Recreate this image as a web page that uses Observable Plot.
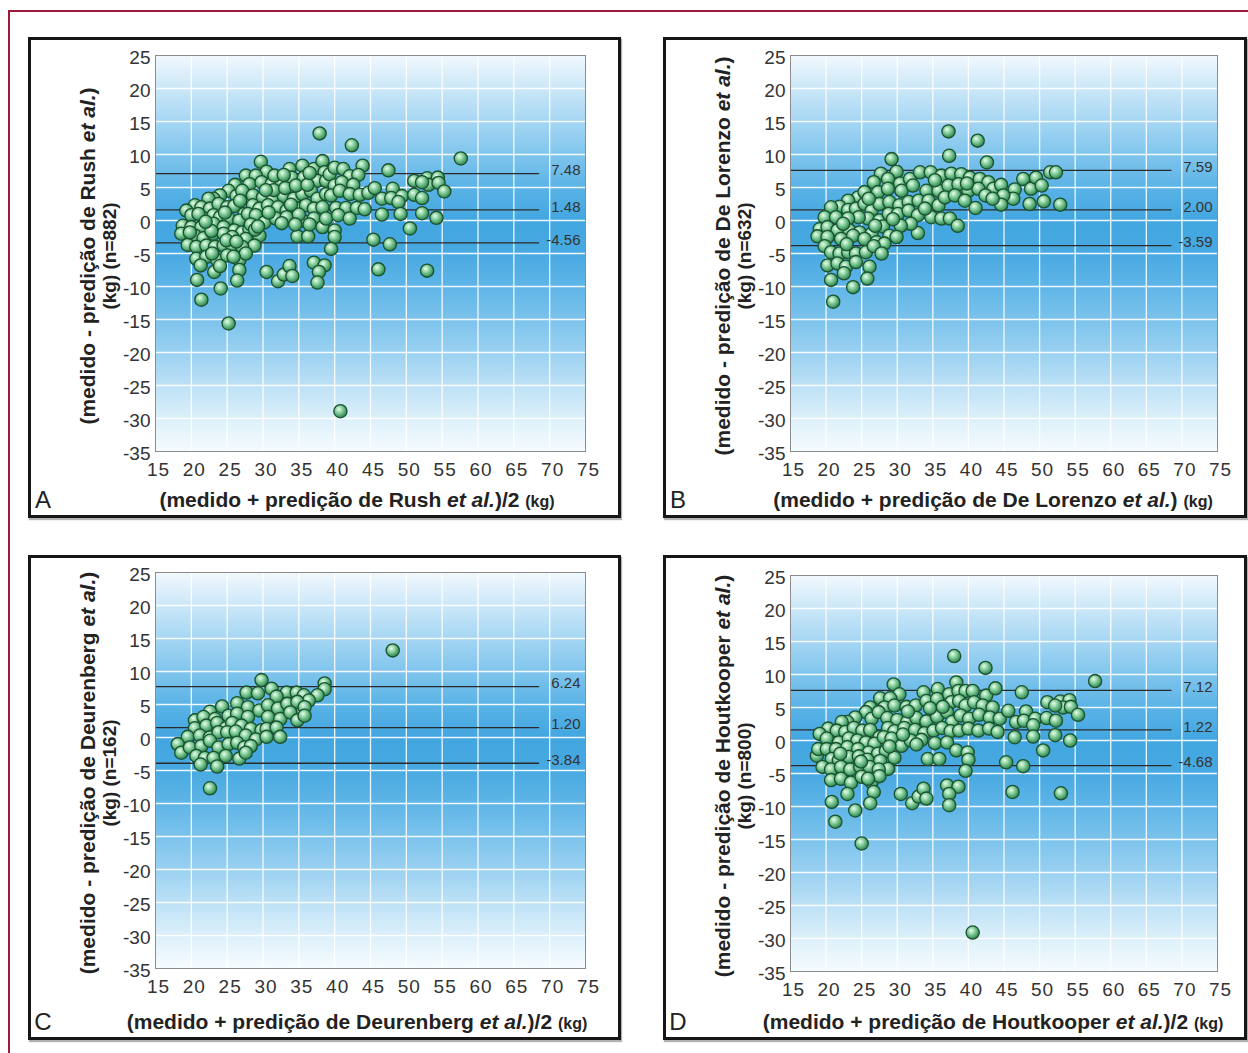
<!DOCTYPE html>
<html><head><meta charset="utf-8">
<script src="https://cdn.jsdelivr.net/npm/d3@7"></script>
<script src="https://cdn.jsdelivr.net/npm/@observablehq/plot@0.6"></script>
<style>
body{margin:0;background:#fff;}
#page{position:relative;width:1248px;height:1053px;overflow:hidden;font-family:"Liberation Sans",Arial,sans-serif;background:#fff;}
.frame{position:absolute;border:3px solid #161616;box-sizing:border-box;box-shadow:1px 2px 1px rgba(0,0,0,.3);}
.panel{position:absolute;}
#red{position:absolute;left:8px;top:10px;width:1300px;height:1100px;border-top:2px solid #9e1a3c;border-left:2px solid #9e1a3c;}
</style></head><body><div id="page"><div id="red"></div></div>
<script>
// ---- axis ticks ----
const xTicks = [15,20,25,30,35,40,45,50,55,60,65,70,75];
const yTicks = [-35,-30,-25,-20,-15,-10,-5,0,5,10,15,20,25];

// ---- panel texts ----
const panelLetters = ["A","B","C","D"];
const methodNames = ["Rush","De Lorenzo","Deurenberg","Houtkooper"];
const sampleSizes = ["882","632","162","800"];
const halfSuffix = ["/2","","/2","/2"];

// ---- limits of agreement (drawn position) and their printed labels ----
const limitsA = [7.1, 1.6, -3.4];
const limitLabelsA = ["7.48","1.48","-4.56"];
const limitsB = [7.6, 1.6, -3.8];
const limitLabelsB = ["7.59","2.00","-3.59"];
const limitsC = [7.7, 1.5, -3.9];
const limitLabelsC = ["6.24","1.20","-3.84"];
const limitsD = [7.6, 1.6, -3.8];
const limitLabelsD = ["7.12","1.22","-4.68"];

// ---- points [mean, difference] ----
const pointsA = [
[37.9,13.2],[29.7,8.9],[30.5,7.4],[27.6,6.8],[29.0,6.8],[26.1,5.4],[28.1,5.5],[29.8,5.8],[31.2,5.5],[32.6,5.8],[33.7,7.8],[34.0,6.5],[35.5,8.3],[35.7,6.5],[37.1,7.8],[38.3,9.0],[38.6,7.3],[37.6,6.0],[38.8,6.0],
[25.2,4.5],[24.0,3.8],[23.1,3.3],[22.4,3.3],[26.3,3.7],[27.1,4.5],[28.6,3.8],[30.0,3.5],[31.4,3.3],[32.9,3.7],[34.3,3.3],[35.5,4.0],[36.7,4.5],[37.6,3.3],[38.8,4.0],
[20.5,2.3],[19.3,1.5],[21.4,2.0],[22.6,1.8],[23.8,2.5],[25.0,2.0],[26.0,2.2],[27.4,1.0],[28.6,2.3],[29.5,1.8],[30.7,2.3],[32.1,2.0],[33.3,1.5],[34.8,1.8],[36.0,2.3],[37.1,1.8],[38.3,2.0],
[20.0,0.8],[21.7,0.3],[23.1,0.8],[24.0,0.5],[25.2,0.3],[26.7,0.0],[27.9,1.0],[29.0,0.8],[30.2,-0.3],[31.8,0.3],[33.3,0.5],[35.5,0.0],[37.1,0.3],[38.3,-1.0],
[18.8,-0.8],[18.6,-2.0],[20.0,-1.0],[21.4,-1.0],[23.1,-0.5],[24.5,-1.0],[26.0,-1.5],[27.1,-1.8],[28.1,-1.3],[29.5,-2.3],
[20.5,-2.3],[21.7,-2.7],[23.1,-2.0],[24.5,-2.0],[25.7,-2.5],[27.6,-2.8],[28.8,-3.8],[34.8,-2.4],[36.3,-2.4],
[19.5,-3.7],[20.7,-4.0],[22.1,-3.8],[23.3,-4.0],[24.5,-3.8],[25.7,-3.8],[27.1,-4.0],
[20.7,-5.8],[22.1,-5.5],[23.6,-6.0],[25.0,-5.3],[26.7,-6.0],[27.6,-5.0],
[26.7,-7.5],[23.2,-7.8],[20.8,-9.0],[26.4,-9.1],[24.1,-10.3],[21.4,-12.0],
[30.5,-7.8],[32.1,-9.2],[32.9,-8.2],[33.7,-6.9],[34.1,-8.4],[37.1,-6.4],[38.6,-6.8],[37.8,-7.8],[37.6,-9.4],
[25.2,-15.6],
[31.5,4.6],[33.1,4.9],[34.6,5.3],[36.2,5.4],[30.8,1.2],[32.6,-0.4],[36.5,-0.6],[35.0,0.9],[28.3,-0.6],[22.8,-1.6],[21.0,1.0],[24.7,1.2],[26.8,3.0],[30.4,4.6],[33.9,2.4],
[22.0,-0.2],[19.8,-1.8],[24.9,-3.0],[26.3,-3.2],[28.9,-1.4],[22.9,-5.0],[21.3,-6.8],[31.6,6.8],[32.9,6.9],[36.5,7.2],[39.3,7.0],[34.5,-0.6],[29.3,-0.9],[24.0,-6.9],[25.9,-5.5],
[42.4,11.4],[57.6,9.4],[43.9,8.3],[40.0,8.0],[41.2,7.8],[47.5,7.6],[51.1,6.0],[52.9,6.4],[54.4,6.5],[53.1,5.4],[54.5,5.7],[55.3,4.4],[52.2,5.8],[42.1,6.7],[43.3,6.9],[40.0,5.3],[41.0,5.8],[42.6,5.4],[39.5,3.8],[40.7,4.5],[42.1,4.0],[43.5,3.9],[44.7,4.2],[45.6,4.9],[46.6,3.3],[48.1,4.8],[47.9,3.4],[49.4,3.7],[48.9,2.8],[51.1,3.9],[52.2,3.4],
[40.2,1.9],[41.6,1.9],[43.1,1.9],[44.2,1.7],[38.8,0.3],[40.5,0.8],[42.1,0.3],[46.6,0.9],[49.2,1.0],[52.2,1.1],[54.2,0.4],[50.5,-1.2],
[40.0,-1.5],[40.0,-2.5],[39.5,-4.3],[45.4,-2.9],[47.7,-3.6],[46.1,-7.4],[52.9,-7.6],
[40.8,-28.9]
];

const pointsB = [
[37.2,13.5],[41.3,12.1],[37.3,9.8],[42.6,8.8],[29.2,9.3],[27.7,7.1],[29.9,7.4],[26.7,5.8],[28.7,6.3],[30.4,5.6],[31.8,6.3],[33.2,7.3],[34.7,7.3],[36.2,6.8],[37.6,7.1],[39.0,7.0],[40.2,6.5],[41.6,6.3],[42.8,5.8],[43.5,4.8],
[24.5,3.5],[25.4,4.3],[27.3,4.3],[28.7,4.8],[30.6,4.5],[32.2,5.3],[34.1,4.5],[35.8,4.5],[37.2,5.3],[38.6,5.5],[40.0,4.5],[41.4,4.8],[42.4,3.8],
[23.1,3.0],[21.9,2.1],[20.7,2.0],[19.8,0.5],[21.4,0.5],[23.1,1.6],[24.2,1.8],[25.4,2.5],[26.4,1.5],[27.5,2.5],[28.9,2.8],[30.3,2.3],[31.6,2.8],[33.0,3.0],[34.4,3.0],[35.8,2.3],[36.7,3.5],[38.1,3.8],[39.5,3.0],[41.0,1.9],
[25.9,0.3],[24.6,0.5],[23.1,0.3],[27.5,0.0],[28.8,1.0],[30.1,1.0],[31.6,1.5],[32.9,0.8],[34.8,0.5],[36.2,0.3],[37.4,0.3],[38.5,-0.8],[32.9,-1.9],[31.9,-0.5],[30.5,-0.8],
[19.1,-1.3],[18.8,-2.4],[20.2,-1.0],[21.6,-1.5],[23.3,-1.5],[24.7,-1.8],[26.4,-2.0],[28.0,-0.9],[28.9,-2.3],[29.9,-2.5],
[20.2,-2.5],[22.1,-2.8],[23.8,-2.3],[25.4,-2.8],[27.1,-3.3],[28.2,-3.5],
[19.8,-3.9],[20.7,-4.8],[21.9,-5.0],[23.1,-4.8],[24.2,-5.0],[25.6,-4.8],[26.7,-3.9],[27.8,-5.0],
[20.2,-6.8],[21.6,-6.5],[22.8,-7.0],[24.2,-6.3],[26.1,-7.0],
[20.7,-9.0],[22.5,-8.0],[25.8,-8.8],[23.8,-10.1],[21.0,-12.3],
[22.4,-0.5],[26.9,-0.8],[29.4,0.2],[33.9,1.8],[35.3,6.1],[39.8,5.6],[26.0,3.3],[22.9,-3.6],
[44.6,5.4],[46.5,4.7],[47.7,6.3],[48.8,4.8],[48.6,2.5],[46.3,3.3],[44.9,3.8],[44.6,2.4],[43.4,3.3],[49.5,6.5],[50.3,5.3],[50.6,2.9],[51.5,7.3],[52.3,7.3],[52.9,2.4]
];

const pointsC = [
[29.8,8.7],[38.6,8.2],[38.6,7.3],[27.7,6.8],[29.3,6.7],[31.2,7.4],[33.3,6.8],[34.7,6.8],[35.7,6.4],[37.6,6.4],[36.4,5.6],[31.9,6.2],[26.4,5.2],[27.9,4.6],[29.5,4.1],[30.7,4.9],[32.1,4.4],[33.4,5.1],[34.8,5.4],[35.8,4.6],
[24.3,4.7],[22.6,3.9],[21.4,2.5],[20.5,2.6],[21.7,3.1],[23.3,2.8],[25.2,3.3],[26.4,3.6],[27.9,3.1],[30.7,3.1],[32.4,2.8],[33.8,3.8],[34.8,2.6],[35.8,3.3],
[20.5,1.4],[22.1,1.8],[23.6,2.2],[24.8,1.4],[25.7,2.2],[27.0,1.8],[28.3,1.3],[29.8,1.1],[30.5,1.3],[31.9,1.5],
[19.5,0.1],[21.2,0.3],[22.6,0.0],[23.8,0.8],[25.0,0.8],[26.2,0.9],[27.6,0.3],[29.0,-0.3],[30.5,0.1],[32.4,0.1],
[18.1,-1.0],[18.6,-2.3],[19.8,-1.5],[21.4,-1.3],[22.6,-0.5],[23.8,-1.5],[25.2,-1.0],[26.4,-0.8],[27.4,-1.5],[28.3,-1.3],
[20.7,-2.8],[21.9,-3.1],[23.1,-3.1],[24.8,-2.8],[26.7,-3.2],[27.6,-2.3],[21.3,-4.1],[23.6,-4.4],[22.6,-7.7],
[48.1,13.2]
];

const pointsD = [
[38.0,12.8],[42.4,11.0],[57.8,9.0],[29.5,8.5],[38.3,8.8],[30.3,7.0],[27.6,6.4],[29.0,6.4],[26.2,5.0],[28.2,5.0],[29.6,5.3],[31.3,5.1],[32.6,5.3],[33.7,7.3],[34.1,6.0],[35.7,7.8],[35.6,6.3],[37.3,7.0],[38.6,7.5],[39.6,7.5],[40.6,7.5],[42.5,6.8],[43.8,7.9],[47.5,7.3],[51.1,5.8],[52.9,5.9],[54.2,6.1],[53.3,5.0],[54.4,5.1],[55.4,3.9],[52.2,5.3],[37.6,5.8],[38.7,6.0],[39.6,5.3],[40.8,5.8],[42.0,5.3],[43.4,5.0],
[25.6,4.3],[24.1,3.5],[23.0,2.8],[22.2,2.8],[26.4,3.3],[27.4,4.3],[28.6,3.4],[30.0,3.1],[31.4,2.8],[32.7,3.4],[34.1,2.9],[35.6,3.6],[37.0,4.3],[37.7,2.8],[38.9,3.8],[40.1,3.3],[41.5,3.9],[43.0,3.5],[44.4,3.3],[45.6,4.5],[46.7,2.8],[48.1,4.4],[47.8,3.0],[49.4,3.3],[49.1,2.3],[51.0,3.4],[52.3,3.0],
[20.3,1.8],[19.1,1.0],[21.5,1.5],[22.7,1.3],[23.9,1.9],[25.1,1.5],[26.2,1.6],[27.5,0.5],[28.7,1.9],[29.6,1.4],[31.0,1.9],[32.5,1.6],[33.8,1.1],[35.1,1.5],[36.3,1.9],[37.5,1.4],[38.7,1.5],[40.0,1.8],[41.4,1.5],[42.9,1.8],[44.1,1.3],[46.5,0.5],[49.1,0.6],[52.2,0.8],[54.3,0.0],[50.5,-1.5],
[20.1,0.3],[21.8,-0.3],[23.2,0.3],[24.4,0.0],[25.6,-0.3],[26.8,-0.5],[28.1,0.5],[29.2,0.3],[30.6,-0.8],[31.9,0.0],[33.4,0.1],[35.3,-0.4],[37.0,-0.3],[38.3,-1.5],[39.9,-1.8],[40.0,-2.9],[39.6,-4.6],
[18.7,-2.3],[18.9,-1.3],[20.1,-1.3],[21.4,-1.3],[23.0,-1.0],[24.5,-1.3],[26.0,-1.8],[27.3,-2.0],[28.4,-1.6],[29.6,-2.6],
[20.8,-2.8],[21.8,-3.0],[23.2,-2.5],[24.6,-2.4],[25.8,-2.9],[27.6,-3.1],[28.7,-4.3],[34.3,-2.8],[35.9,-2.8],
[19.5,-4.0],[20.7,-4.4],[22.1,-4.0],[23.4,-4.4],[24.8,-4.0],[26.1,-4.0],[27.4,-4.4],
[20.7,-6.0],[22.1,-5.8],[23.5,-6.4],[25.0,-5.5],[26.4,-6.3],[27.5,-5.4],
[26.7,-7.8],[23.0,-8.1],[20.8,-9.3],[26.2,-9.5],[24.1,-10.6],[21.3,-12.3],
[30.5,-8.1],[32.1,-9.5],[33.0,-8.5],[33.7,-7.3],[34.1,-8.8],[37.0,-6.8],[38.6,-7.0],[37.3,-8.1],[37.3,-9.8],
[22.0,-2.0],[24.9,-3.2],[28.9,-0.9],[31.5,4.4],[34.6,4.9],[36.4,5.1],[30.8,0.9],[32.7,-0.6],[25.9,-5.8],
[45.3,-3.3],[47.7,-3.9],[46.2,-7.8],[53.0,-8.0],[25.0,-15.6],[40.6,-29.1]
];

// ---- layout ----
const panels = [
  {i:0, points:pointsA, limits:limitsA, labels:limitLabelsA, left:28,  top:37,  width:593, height:481, mt:18, mb:67, ml:127, mr:36},
  {i:1, points:pointsB, limits:limitsB, labels:limitLabelsB, left:663, top:37,  width:584, height:481, mt:18, mb:67, ml:127, mr:30},
  {i:2, points:pointsC, limits:limitsC, labels:limitLabelsC, left:28,  top:555, width:593, height:485, mt:17, mb:72, ml:127, mr:36},
  {i:3, points:pointsD, limits:limitsD, labels:limitLabelsD, left:663, top:555, width:584, height:485, mt:20, mb:69, ml:127, mr:30}
];

const page = document.getElementById("page");
const FONT = "Liberation Sans, Arial, Helvetica, sans-serif";

panels.forEach(p => {
  const id = panelLetters[p.i];
  const svg = Plot.plot({
    width: p.width, height: p.height,
    marginTop: p.mt, marginBottom: p.mb, marginLeft: p.ml, marginRight: p.mr,
    x: {domain: [15, 75]},
    y: {domain: [-35, 25]},
    style: {fontFamily: FONT, background: "none", color: "#333", overflow: "visible"},
    marks: [
      Plot.frame({fill: `url(#bg${id})`}),
      Plot.ruleX(xTicks.slice(1, -1), {stroke: "white", strokeWidth: 1.3, strokeOpacity: 0.9}),
      Plot.ruleY(yTicks.slice(1, -1), {stroke: "white", strokeWidth: 1.3, strokeOpacity: 0.9}),
      Plot.ruleY(p.limits, {y: d => d, x1: 15, x2: 68.6, stroke: "#2a2a2a", strokeWidth: 1.3}),
      Plot.text(p.limits, {x: 74.3, y: d => d, text: (d, i) => p.labels[i], textAnchor: "end", fontSize: 15, fill: "#333", dy: -3}),
      Plot.dot(p.points, {x: d => d[0], y: d => d[1], r: 6.6, fill: `url(#ball${id})`, stroke: "#1b5231", strokeWidth: 1.3}),
      Plot.frame({stroke: "#8c8c8c"}),
      Plot.axisX({ticks: xTicks, tickSize: 0, tickPadding: 11, fontSize: 19, label: null, dx: 3, tickFormat: d => String(d)}),
      Plot.axisY({ticks: yTicks, tickSize: 0, tickPadding: 5, fontSize: 19, label: null, dy: 2, tickFormat: d => String(d)})
    ]
  });
  svg.setAttribute("class", (svg.getAttribute("class") || "") + " panel");
  svg.style.position = "absolute";
  svg.style.left = p.left + "px";
  svg.style.top = p.top + "px";
  page.appendChild(svg);

  const s = d3.select(svg);
  s.selectAll("g[aria-label='x-axis tick label'] text").attr("letter-spacing", "1px");
  const defs = s.insert("defs", ":first-child");
  const bg = defs.append("linearGradient").attr("id", "bg" + id).attr("x1", 0).attr("y1", 0).attr("x2", 0).attr("y2", 1);
  [[0, "#f1f8fd"], [0.167, "#a5d6f3"], [0.25, "#80c5ed"], [0.333, "#5ab3e6"], [0.417, "#42a6e0"], [0.5, "#48a9e1"],
   [0.583, "#5fb5e7"], [0.667, "#7cc3ec"], [0.75, "#9ad1f1"], [0.833, "#bde1f6"], [0.917, "#dcf0fa"], [1, "#f6fbfe"]]
    .forEach(([o, c]) => bg.append("stop").attr("offset", o).attr("stop-color", c));
  const ball = defs.append("radialGradient").attr("id", "ball" + id)
    .attr("cx", "42%").attr("cy", "40%").attr("r", "62%").attr("fx", "38%").attr("fy", "34%");
  [[0, "#eefcf1"], [0.3, "#a6e0b5"], [0.7, "#55ad74"], [1, "#327a4d"]]
    .forEach(([o, c]) => ball.append("stop").attr("offset", o).attr("stop-color", c));

  const W = p.width, H = p.height;
  const plotMid = p.mt + (H - p.mt - p.mb) / 2 + 3;
  // panel letter
  s.append("text").attr("x", 15).attr("y", H - 10).attr("font-size", 24).attr("fill", "#222")
    .attr("font-family", FONT).text(id);
  // x title
  const cx = p.i % 2 === 0 ? 329 : 330;
  const xt = s.append("text").attr("x", cx).attr("y", H - 11).attr("text-anchor", "middle")
    .attr("font-size", 21).attr("font-weight", "bold").attr("fill", "#222").attr("font-family", FONT)
    .style("white-space", "pre");
  xt.append("tspan").text(`(medido + predição de ${methodNames[p.i]} `);
  xt.append("tspan").attr("font-style", "italic").text("et al.");
  xt.append("tspan").text(`)${halfSuffix[p.i]} `);
  xt.append("tspan").attr("font-size", 16).text("(kg)");
  // y title (two lines)
  const yt1 = s.append("text").attr("transform", `translate(${p.ml - 67},${plotMid}) rotate(-90)`)
    .attr("text-anchor", "middle").attr("dy", "0.35em").attr("font-size", 21).attr("font-weight", "bold")
    .attr("fill", "#222").attr("font-family", FONT).style("white-space", "pre");
  yt1.append("tspan").text(`(medido - predição de ${methodNames[p.i]} `);
  yt1.append("tspan").attr("font-style", "italic").text("et al.");
  yt1.append("tspan").text(")");
  s.append("text").attr("transform", `translate(${p.ml - 46},${plotMid}) rotate(-90)`)
    .attr("text-anchor", "middle").attr("dy", "0.35em").attr("font-size", 19).attr("font-weight", "bold")
    .attr("fill", "#222").attr("font-family", FONT).text(`(kg) (n=${sampleSizes[p.i]})`);

  const fr = document.createElement("div");
  fr.className = "frame";
  fr.style.left = p.left + "px"; fr.style.top = p.top + "px";
  fr.style.width = p.width + "px"; fr.style.height = p.height + "px";
  page.appendChild(fr);
});
</script></body></html>
